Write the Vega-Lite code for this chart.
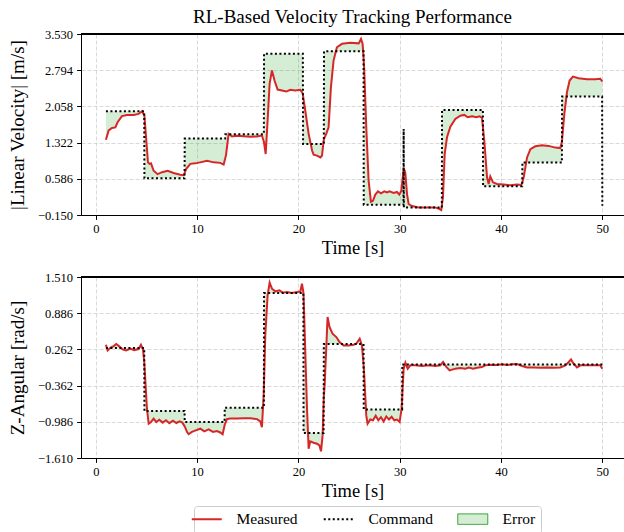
{
  "$schema": "https://vega.github.io/schema/vega-lite/v6.json",
  "padding": {"left": 8, "top": 8, "right": 0, "bottom": 0},
  "background": "white",
  "config": {
    "font": "Liberation Serif",
    "view": {"stroke": null},
    "axis": {
      "labelFont": "Liberation Serif", "labelFontSize": 12.5, "labelColor": "#000000", "labelOverlap": false,
      "titleFont": "Liberation Serif", "titleFontSize": 18.5, "titleFontWeight": "normal", "titleColor": "#000000",
      "domainColor": "#000000", "domainWidth": 1, "tickColor": "#000000", "tickWidth": 1, "tickSize": 4.4,
      "gridColor": "#cfcfcf", "gridDash": [4, 2], "gridWidth": 0.8
    }
  },
  "datasets": {
    "top": [
      {"t":1.0,"m":1.38,"c":1.96},{"t":1.27,"m":1.57,"c":1.96},{"t":1.6,"m":1.62,"c":1.96},{"t":1.93,"m":1.63,"c":1.96},
      {"t":2.15,"m":1.735,"c":1.96},{"t":2.58,"m":1.86,"c":1.96},{"t":3.08,"m":1.885,"c":1.96},{"t":3.74,"m":1.885,"c":1.96},
      {"t":4.23,"m":1.905,"c":1.96},{"t":4.56,"m":1.96,"c":1.96},{"t":4.78,"m":1.88,"c":1.96},{"t":4.8,"m":1.87,"c":0.595},
      {"t":4.99,"m":1.36,"c":0.595},{"t":5.15,"m":0.92,"c":0.595},{"t":5.31,"m":0.89,"c":0.595},{"t":5.45,"m":0.9,"c":0.595},
      {"t":5.71,"m":0.75,"c":0.595},{"t":6.1,"m":0.68,"c":0.595},{"t":6.54,"m":0.72,"c":0.595},{"t":7.09,"m":0.75,"c":0.595},
      {"t":7.68,"m":0.705,"c":0.595},{"t":8.34,"m":0.67,"c":0.595},{"t":8.67,"m":0.66,"c":0.595},{"t":8.76,"m":0.7,"c":0.595},
      {"t":8.78,"m":0.71,"c":1.403},{"t":8.93,"m":0.79,"c":1.403},{"t":9.33,"m":0.89,"c":1.403},{"t":9.82,"m":0.9,"c":1.403},
      {"t":10.3,"m":0.92,"c":1.403},{"t":10.98,"m":0.95,"c":1.403},{"t":11.63,"m":0.92,"c":1.403},{"t":12.29,"m":0.91,"c":1.403},
      {"t":12.62,"m":0.875,"c":1.403},{"t":12.77,"m":1.0,"c":1.403},{"t":12.79,"m":1.02,"c":1.491},{"t":12.85,"m":1.06,"c":1.491},
      {"t":13.11,"m":1.5,"c":1.491},{"t":13.44,"m":1.445,"c":1.491},{"t":13.93,"m":1.46,"c":1.491},{"t":14.59,"m":1.45,"c":1.491},
      {"t":15.25,"m":1.44,"c":1.491},{"t":15.9,"m":1.447,"c":1.491},{"t":16.4,"m":1.465,"c":1.491},{"t":16.59,"m":1.34,"c":1.491},
      {"t":16.61,"m":1.32,"c":3.13},{"t":16.77,"m":1.09,"c":3.13},{"t":16.96,"m":1.77,"c":3.13},{"t":17.16,"m":2.52,"c":3.13},
      {"t":17.39,"m":2.79,"c":3.13},{"t":17.65,"m":2.58,"c":3.13},{"t":17.95,"m":2.4,"c":3.13},{"t":18.38,"m":2.38,"c":3.13},
      {"t":18.81,"m":2.36,"c":3.13},{"t":19.2,"m":2.395,"c":3.13},{"t":19.7,"m":2.38,"c":3.13},{"t":20.19,"m":2.395,"c":3.13},
      {"t":20.42,"m":2.325,"c":3.13},{"t":20.44,"m":2.3,"c":3.13},{"t":20.46,"m":2.27,"c":1.295},{"t":20.68,"m":1.97,"c":1.295},
      {"t":21.01,"m":1.5,"c":1.295},{"t":21.35,"m":1.16,"c":1.295},{"t":21.5,"m":1.077,"c":1.295},{"t":21.84,"m":1.057,"c":1.295},
      {"t":22.17,"m":1.02,"c":1.295},{"t":22.33,"m":1.057,"c":1.295},{"t":22.49,"m":1.36,"c":1.295},{"t":22.51,"m":1.38,"c":1.295},
      {"t":22.53,"m":1.4,"c":3.18},{"t":22.75,"m":1.5,"c":3.18},{"t":22.98,"m":1.633,"c":3.18},{"t":23.21,"m":2.447,"c":3.18},
      {"t":23.47,"m":2.99,"c":3.18},{"t":23.8,"m":3.26,"c":3.18},{"t":24.3,"m":3.33,"c":3.18},{"t":25.12,"m":3.35,"c":3.18},
      {"t":25.95,"m":3.34,"c":3.18},{"t":26.18,"m":3.43,"c":3.18},{"t":26.34,"m":3.33,"c":3.18},{"t":26.43,"m":3.05,"c":3.18},
      {"t":26.45,"m":2.98,"c":0.06},{"t":26.5,"m":2.79,"c":0.06},{"t":26.7,"m":1.63,"c":0.06},{"t":26.93,"m":0.55,"c":0.06},
      {"t":27.16,"m":0.12,"c":0.06},{"t":27.36,"m":0.14,"c":0.06},{"t":27.59,"m":0.265,"c":0.06},{"t":27.86,"m":0.33,"c":0.06},
      {"t":28.15,"m":0.29,"c":0.06},{"t":28.48,"m":0.33,"c":0.06},{"t":28.74,"m":0.31,"c":0.06},{"t":29.0,"m":0.33,"c":0.06},
      {"t":29.4,"m":0.3,"c":0.06},{"t":29.73,"m":0.318,"c":0.06},{"t":29.96,"m":0.265,"c":0.06},{"t":30.16,"m":0.345,"c":0.06},
      {"t":30.37,"m":0.75,"c":0.06},{"t":30.39,"m":0.79,"c":1.6},{"t":30.41,"m":0.79,"c":0.0},{"t":30.55,"m":0.717,"c":0.0},
      {"t":30.72,"m":0.28,"c":0.0},{"t":30.88,"m":0.074,"c":0.0},{"t":31.21,"m":0.033,"c":0.0},{"t":31.87,"m":0.005,"c":0.0},
      {"t":32.7,"m":0.005,"c":0.0},{"t":33.51,"m":0.005,"c":0.0},{"t":33.94,"m":-0.03,"c":0.0},{"t":34.1,"m":-0.05,"c":0.0},
      {"t":34.16,"m":0.04,"c":0.0},{"t":34.18,"m":0.08,"c":1.987},{"t":34.27,"m":0.21,"c":1.987},{"t":34.44,"m":1.09,"c":1.987},
      {"t":34.67,"m":1.43,"c":1.987},{"t":35.0,"m":1.647,"c":1.987},{"t":35.49,"m":1.804,"c":1.987},{"t":35.98,"m":1.87,"c":1.987},
      {"t":36.38,"m":1.885,"c":1.987},{"t":36.71,"m":1.837,"c":1.987},{"t":37.14,"m":1.857,"c":1.987},{"t":37.56,"m":1.837,"c":1.987},
      {"t":37.89,"m":1.857,"c":1.987},{"t":38.12,"m":1.824,"c":1.987},{"t":38.21,"m":1.65,"c":1.987},{"t":38.23,"m":1.6,"c":0.432},
      {"t":38.35,"m":1.36,"c":0.432},{"t":38.62,"m":0.616,"c":0.432},{"t":38.78,"m":0.48,"c":0.432},{"t":38.94,"m":0.636,"c":0.432},
      {"t":39.21,"m":0.514,"c":0.432},{"t":39.6,"m":0.48,"c":0.432},{"t":40.26,"m":0.47,"c":0.432},{"t":40.92,"m":0.453,"c":0.432},
      {"t":41.58,"m":0.47,"c":0.432},{"t":42.0,"m":0.46,"c":0.432},{"t":42.09,"m":0.5,"c":0.432},{"t":42.11,"m":0.52,"c":0.915},
      {"t":42.24,"m":0.616,"c":0.915},{"t":42.57,"m":1.02,"c":0.915},{"t":42.9,"m":1.19,"c":0.915},{"t":43.39,"m":1.247,"c":0.915},
      {"t":44.05,"m":1.267,"c":0.915},{"t":44.7,"m":1.255,"c":0.915},{"t":45.36,"m":1.22,"c":0.915},{"t":45.85,"m":1.21,"c":0.915},
      {"t":46.01,"m":1.34,"c":0.915},{"t":46.03,"m":1.38,"c":2.258},{"t":46.25,"m":1.906,"c":2.258},{"t":46.51,"m":2.345,"c":2.258},
      {"t":46.77,"m":2.584,"c":2.258},{"t":47.1,"m":2.665,"c":2.258},{"t":47.66,"m":2.63,"c":2.258},{"t":48.49,"m":2.61,"c":2.258},
      {"t":49.3,"m":2.61,"c":2.258},{"t":49.8,"m":2.62,"c":2.258},{"t":49.98,"m":2.57,"c":2.258},{"t":50.0,"m":2.56,"c":0.04}
    ],
    "bot": [
      {"t":1.0,"m":0.343,"c":0.286},{"t":1.17,"m":0.245,"c":0.286},{"t":1.5,"m":0.297,"c":0.286},{"t":1.76,"m":0.32,"c":0.286},
      {"t":2.02,"m":0.354,"c":0.286},{"t":2.32,"m":0.314,"c":0.286},{"t":2.65,"m":0.262,"c":0.286},{"t":2.98,"m":0.245,"c":0.286},
      {"t":3.41,"m":0.274,"c":0.286},{"t":3.8,"m":0.25,"c":0.286},{"t":4.23,"m":0.268,"c":0.286},{"t":4.46,"m":0.343,"c":0.286},
      {"t":4.66,"m":0.262,"c":0.286},{"t":4.78,"m":0.05,"c":0.286},{"t":4.8,"m":0.0,"c":-0.8},{"t":5.05,"m":-0.76,"c":-0.8},
      {"t":5.22,"m":-1.02,"c":-0.8},{"t":5.45,"m":-0.99,"c":-0.8},{"t":5.71,"m":-0.93,"c":-0.8},{"t":5.97,"m":-0.99,"c":-0.8},
      {"t":6.27,"m":-0.95,"c":-0.8},{"t":6.6,"m":-1.0,"c":-0.8},{"t":6.93,"m":-0.96,"c":-0.8},{"t":7.26,"m":-1.01,"c":-0.8},
      {"t":7.62,"m":-0.967,"c":-0.8},{"t":7.95,"m":-1.007,"c":-0.8},{"t":8.28,"m":-0.98,"c":-0.8},{"t":8.54,"m":-1.0,"c":-0.8},
      {"t":8.76,"m":-1.06,"c":-0.8},{"t":8.78,"m":-1.065,"c":-0.99},{"t":9.0,"m":-1.16,"c":-0.99},{"t":9.16,"m":-1.2,"c":-0.99},
      {"t":9.49,"m":-1.16,"c":-0.99},{"t":9.92,"m":-1.13,"c":-0.99},{"t":10.32,"m":-1.105,"c":-0.99},{"t":10.71,"m":-1.15,"c":-0.99},
      {"t":11.14,"m":-1.117,"c":-0.99},{"t":11.57,"m":-1.16,"c":-0.99},{"t":11.96,"m":-1.145,"c":-0.99},{"t":12.29,"m":-1.17,"c":-0.99},
      {"t":12.52,"m":-1.2,"c":-0.99},{"t":12.71,"m":-1.05,"c":-0.99},{"t":12.73,"m":-1.035,"c":-0.743},{"t":12.95,"m":-0.94,"c":-0.743},
      {"t":13.28,"m":-0.93,"c":-0.743},{"t":13.94,"m":-0.93,"c":-0.743},{"t":14.6,"m":-0.926,"c":-0.743},{"t":15.25,"m":-0.926,"c":-0.743},
      {"t":15.92,"m":-0.94,"c":-0.743},{"t":16.24,"m":-0.98,"c":-0.743},{"t":16.4,"m":-1.078,"c":-0.743},{"t":16.57,"m":-0.53,"c":-0.743},
      {"t":16.59,"m":-0.42,"c":-0.743},{"t":16.61,"m":-0.3,"c":1.234},{"t":16.73,"m":0.504,"c":1.234},{"t":16.96,"m":1.193,"c":1.234},
      {"t":17.16,"m":1.412,"c":1.234},{"t":17.39,"m":1.308,"c":1.234},{"t":17.72,"m":1.262,"c":1.234},{"t":18.12,"m":1.28,"c":1.234},
      {"t":18.47,"m":1.24,"c":1.234},{"t":18.87,"m":1.25,"c":1.234},{"t":19.36,"m":1.234,"c":1.234},{"t":19.86,"m":1.25,"c":1.234},
      {"t":20.19,"m":1.262,"c":1.234},{"t":20.35,"m":1.394,"c":1.234},{"t":20.49,"m":1.25,"c":1.234},{"t":20.51,"m":1.19,"c":-1.179},
      {"t":20.68,"m":0.216,"c":-1.179},{"t":20.85,"m":-0.76,"c":-1.179},{"t":21.01,"m":-1.45,"c":-1.179},{"t":21.17,"m":-1.323,"c":-1.179},
      {"t":21.5,"m":-1.346,"c":-1.179},{"t":21.83,"m":-1.363,"c":-1.179},{"t":22.07,"m":-1.392,"c":-1.179},{"t":22.23,"m":-1.495,"c":-1.179},
      {"t":22.39,"m":-1.22,"c":-1.179},{"t":22.49,"m":-0.65,"c":-1.179},{"t":22.51,"m":-0.55,"c":0.355},{"t":22.59,"m":-0.358,"c":0.355},
      {"t":22.76,"m":0.33,"c":0.355},{"t":22.88,"m":0.82,"c":0.355},{"t":23.07,"m":0.648,"c":0.355},{"t":23.37,"m":0.533,"c":0.355},
      {"t":23.74,"m":0.475,"c":0.355},{"t":24.06,"m":0.389,"c":0.355},{"t":24.46,"m":0.33,"c":0.355},{"t":24.96,"m":0.331,"c":0.355},
      {"t":25.45,"m":0.343,"c":0.355},{"t":25.71,"m":0.36,"c":0.355},{"t":26.05,"m":0.447,"c":0.355},{"t":26.27,"m":0.33,"c":0.355},
      {"t":26.43,"m":0.0,"c":0.355},{"t":26.45,"m":-0.05,"c":-0.772},{"t":26.5,"m":-0.186,"c":-0.772},{"t":26.7,"m":-0.88,"c":-0.772},
      {"t":26.83,"m":-1.02,"c":-0.772},{"t":27.1,"m":-0.947,"c":-0.772},{"t":27.36,"m":-0.96,"c":-0.772},{"t":27.63,"m":-0.88,"c":-0.772},
      {"t":27.89,"m":-0.96,"c":-0.772},{"t":28.15,"m":-0.905,"c":-0.772},{"t":28.41,"m":-0.98,"c":-0.772},{"t":28.68,"m":-0.894,"c":-0.772},
      {"t":28.94,"m":-0.947,"c":-0.772},{"t":29.2,"m":-0.9,"c":-0.772},{"t":29.47,"m":-0.96,"c":-0.772},{"t":29.73,"m":-0.947,"c":-0.772},
      {"t":29.99,"m":-0.99,"c":-0.772},{"t":30.19,"m":-0.76,"c":-0.772},{"t":30.24,"m":-0.6,"c":-0.772},{"t":30.26,"m":-0.5,"c":0.0},
      {"t":30.39,"m":-0.07,"c":0.0},{"t":30.56,"m":0.033,"c":0.0},{"t":30.79,"m":-0.07,"c":0.0},{"t":31.05,"m":-0.013,"c":0.0},
      {"t":31.54,"m":-0.013,"c":0.0},{"t":32.2,"m":-0.025,"c":0.0},{"t":32.86,"m":-0.013,"c":0.0},{"t":33.52,"m":-0.025,"c":0.0},
      {"t":34.01,"m":-0.013,"c":0.0},{"t":34.28,"m":0.045,"c":0.0},{"t":34.6,"m":-0.04,"c":0.0},{"t":34.93,"m":-0.1,"c":0.0},
      {"t":35.49,"m":-0.07,"c":0.0},{"t":35.98,"m":-0.06,"c":0.0},{"t":36.48,"m":-0.07,"c":0.0},{"t":36.81,"m":-0.05,"c":0.0},
      {"t":37.24,"m":-0.07,"c":0.0},{"t":37.63,"m":-0.053,"c":0.0},{"t":38.12,"m":-0.04,"c":0.0},{"t":38.45,"m":-0.013,"c":0.0},
      {"t":38.95,"m":-0.002,"c":0.0},{"t":39.61,"m":-0.007,"c":0.0},{"t":40.1,"m":0.004,"c":0.0},{"t":40.6,"m":-0.007,"c":0.0},
      {"t":41.09,"m":0.004,"c":0.0},{"t":41.58,"m":0.01,"c":0.0},{"t":42.08,"m":-0.025,"c":0.0},{"t":42.57,"m":-0.05,"c":0.0},
      {"t":43.23,"m":-0.05,"c":0.0},{"t":43.88,"m":-0.053,"c":0.0},{"t":44.54,"m":-0.05,"c":0.0},{"t":45.2,"m":-0.053,"c":0.0},
      {"t":45.86,"m":-0.05,"c":0.0},{"t":46.35,"m":-0.013,"c":0.0},{"t":46.68,"m":0.045,"c":0.0},{"t":46.91,"m":0.09,"c":0.0},
      {"t":47.17,"m":0.016,"c":0.0},{"t":47.5,"m":-0.05,"c":0.0},{"t":47.83,"m":-0.013,"c":0.0},{"t":48.49,"m":-0.013,"c":0.0},
      {"t":49.15,"m":-0.013,"c":0.0},{"t":49.8,"m":-0.013,"c":0.0},{"t":50.0,"m":-0.07,"c":0.0}
    ]
  },
  "spacing": 13,
  "resolve": {"scale": {"color": "shared", "x": "independent", "y": "independent"}},
  "vconcat": [
    {
      "width": 543, "height": 181,
      "title": {"text": "RL-Based Velocity Tracking Performance", "frame": "group", "anchor": "middle", "fontSize": 19, "fontWeight": "normal", "font": "Liberation Serif", "color": "#000000", "offset": 1},
      "data": {"name": "top"},
      "layer": [
        {
          "mark": {"type": "area", "fillOpacity": 0.2, "interpolate": "linear"},
          "encoding": {
            "x": {"field": "t", "type": "quantitative", "scale": {"domain": [-1.46, 52.14], "nice": false, "zero": false},
                  "axis": {"title": "Time [s]", "values": [0, 10, 20, 30, 40, 50], "tickCount": 20, "format": "d", "labelPadding": 3, "titlePadding": 4, "labelOverlap": false}},
            "y": {"field": "m", "type": "quantitative", "scale": {"domain": [-0.15, 3.53], "nice": false, "zero": false},
                  "axis": {"title": "|Linear Velocity| [m/s]", "titleFontSize": 19, "values": [-0.15, 0.586, 1.322, 2.058, 2.794, 3.5299999], "tickCount": 20, "format": ".3f", "labelPadding": 4, "minExtent": 46, "maxExtent": 46, "titlePadding": 8, "labelOverlap": false, "labelBound": false, "labelFlush": false}},
            "y2": {"field": "c"},
            "color": {"datum": "Error", "type": "nominal",
              "scale": {"domain": ["Measured", "Command", "Error"], "range": ["#d62728", "#000000", "#2ca02c"]},
              "legend": {
                "orient": "none", "legendX": 113, "legendY": 472, "direction": "horizontal", "columns": 3, "title": null,
                "labelFont": "Liberation Serif", "labelFontSize": 15.5, "labelColor": "#000000",
                "symbolSize": 900, "symbolStrokeWidth": 2, "columnPadding": 21, "labelOffset": 22, "padding": 5,
                "strokeColor": "#cccccc", "fillColor": "#ffffff", "cornerRadius": 3,
                "encode": {"symbols": {"update": {
                  "shape": {"signal": "datum.value === 'Error' ? 'M-1,-0.35L1,-0.35L1,0.35L-1,0.35Z' : 'stroke'"},
                  "fill": {"signal": "datum.value === 'Error' ? '#2ca02c' : 'transparent'"},
                  "fillOpacity": {"signal": "datum.value === 'Error' ? 0.2 : 1"},
                  "stroke": {"signal": "datum.value === 'Measured' ? '#d62728' : (datum.value === 'Command' ? '#000000' : '#b9ddb9')"},
                  "strokeDash": {"signal": "datum.value === 'Command' ? [2, 2.5] : [1, 0]"},
                  "strokeWidth": {"signal": "datum.value === 'Error' ? 1 : 2"},
                  "opacity": {"value": 1}
                }}}
              }}
          }
        },
        {
          "mark": {"type": "line", "strokeWidth": 2},
          "encoding": {"x": {"field": "t", "type": "quantitative"}, "y": {"field": "m", "type": "quantitative"}, "color": {"datum": "Measured", "type": "nominal"}}
        },
        {
          "mark": {"type": "line", "strokeWidth": 2, "strokeDash": [2, 2.5]},
          "encoding": {"x": {"field": "t", "type": "quantitative"}, "y": {"field": "c", "type": "quantitative"}, "color": {"datum": "Command", "type": "nominal"}}
        },
        {
          "mark": {"type": "rule", "color": "#000000", "strokeWidth": 1},
          "encoding": {"y": {"datum": 3.53, "type": "quantitative"}}
        }
      ]
    },
    {
      "width": 543, "height": 181,
      "data": {"name": "bot"},
      "layer": [
        {
          "mark": {"type": "area", "fillOpacity": 0.2, "interpolate": "linear"},
          "encoding": {
            "x": {"field": "t", "type": "quantitative", "scale": {"domain": [-1.46, 52.14], "nice": false, "zero": false},
                  "axis": {"title": "Time [s]", "values": [0, 10, 20, 30, 40, 50], "tickCount": 20, "format": "d", "labelPadding": 3, "titlePadding": 4, "labelOverlap": false}},
            "y": {"field": "m", "type": "quantitative", "scale": {"domain": [-1.61, 1.51], "nice": false, "zero": false},
                  "axis": {"title": "Z-Angular [rad/s]", "titleFontSize": 19, "values": [-1.6099999, -0.986, -0.362, 0.262, 0.886, 1.5099999], "tickCount": 20, "format": ".3f", "labelPadding": 4, "minExtent": 46, "maxExtent": 46, "titlePadding": 8, "labelOverlap": false, "labelBound": false, "labelFlush": false}},
            "y2": {"field": "c"},
            "color": {"datum": "Error", "type": "nominal"}
          }
        },
        {
          "mark": {"type": "line", "strokeWidth": 2},
          "encoding": {"x": {"field": "t", "type": "quantitative"}, "y": {"field": "m", "type": "quantitative"}, "color": {"datum": "Measured", "type": "nominal"}}
        },
        {
          "mark": {"type": "line", "strokeWidth": 2, "strokeDash": [2, 2.5]},
          "encoding": {"x": {"field": "t", "type": "quantitative"}, "y": {"field": "c", "type": "quantitative"}, "color": {"datum": "Command", "type": "nominal"}}
        },
        {
          "mark": {"type": "rule", "color": "#000000", "strokeWidth": 1},
          "encoding": {"y": {"datum": 1.51, "type": "quantitative"}}
        }
      ]
    }
  ]
}
